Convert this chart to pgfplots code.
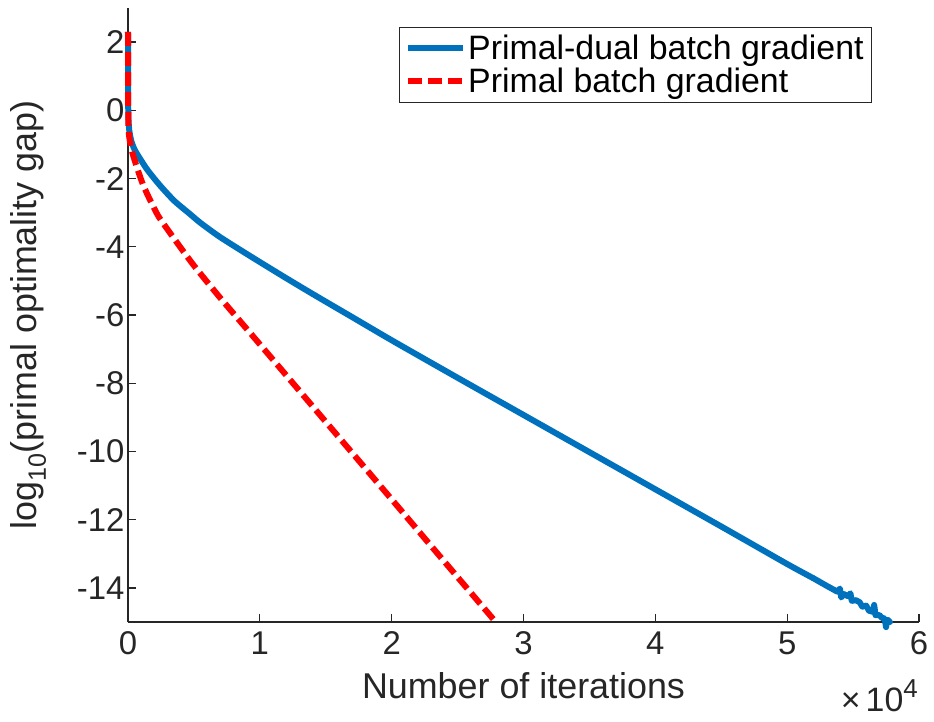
\documentclass[border=0pt]{standalone}
\usepackage{fontspec}
\setmainfont{Liberation Sans}
\usepackage{pgfplots}
\pgfplotsset{compat=1.18}

\definecolor{mblue}{rgb}{0,0.447,0.741}
\definecolor{mgrey}{rgb}{0.15,0.15,0.15}

\begin{document}
\begin{tikzpicture}
\begin{axis}[
    scale only axis,
    width=791bp, height=614bp,
    xmin=0, xmax=6,
    ymin=-15, ymax=3,
    axis x line*=bottom,
    axis y line*=left,
    axis line style={mgrey, line width=1.3bp},
    tick align=inside,
    major tick length=8bp,
    tick style={mgrey, line width=1.3bp},
    xtick={0,1,...,6},
    ytick={-14,-12,...,2},
    scaled x ticks=false,
    /pgf/number format/assume math mode=true,
    tick label style={font=\fontsize{33}{38}\selectfont, text=mgrey},
    xticklabel style={yshift=-6bp},
    label style={font=\fontsize{36}{40}\selectfont, text=mgrey},
    xlabel={Number of iterations},
    xlabel style={at={([yshift=-76bp]axis description cs:0.5,0)}, anchor=base},
    ylabel={log\textsubscript{10}(primal optimality gap)},
    ylabel style={at={([xshift=-91bp]axis description cs:0,0.5)}, anchor=base},
    clip=false,
    legend style={at={(rel axis cs:1,1)}, anchor=north east,
        xshift=-47bp, yshift=-19bp,
        draw=mgrey, line width=0.8bp,
        font=\fontsize{34}{38}\selectfont,
        inner xsep=6bp, inner ysep=6bp, row sep=3bp},
    legend cell align=left,
    legend image code/.code={\draw[#1] (0bp,0bp) -- (55bp,0bp);},
]
\addplot[mblue, line width=6bp, smooth, tension=0.4] coordinates {
    (0,2.3) (0.001,0.8) (0.002,0) (0.004,-0.3) (0.01,-0.6) (0.025,-0.9)
    (0.05,-1.15) (0.09,-1.41) (0.15,-1.76) (0.24,-2.19) (0.35,-2.65)
    (0.47,-3.04) (0.55,-3.3) (0.7,-3.72) (0.93,-4.28) (1.2,-4.92)
    (1.43,-5.45) (1.7,-6.06) (2.0,-6.74) (2.5,-7.84) (3.0,-8.93)
    (3.5,-10.02) (4.0,-11.11) (4.5,-12.2) (5.0,-13.3) (5.2,-13.72)
};
\addlegendentry{Primal-dual batch gradient}
\addplot[red, line width=6bp, dash pattern=on 14bp off 6bp, smooth, tension=0.4] coordinates {
    (0,2.3) (0.001,1.0) (0.002,0) (0.004,-0.5) (0.01,-0.8) (0.03,-1.2)
    (0.07,-1.7) (0.115,-2.19) (0.17,-2.65) (0.23,-3.1) (0.32,-3.6)
    (0.49,-4.5) (0.7,-5.5) (0.93,-6.54) (1.19,-7.72) (1.5,-9.13)
    (1.94,-11.13) (2.4,-13.23) (2.785,-14.98)
};
\addlegendentry{Primal batch gradient}
\addplot[mblue, line width=6bp, line join=round, line cap=round, forget plot] coordinates {
    (5.2,-13.72) (5.3,-13.94) (5.38,-14.11) (5.40,-14.02) (5.41,-14.28)
    (5.43,-14.18) (5.46,-14.24) (5.48,-14.16) (5.49,-14.38) (5.52,-14.36)
    (5.55,-14.42) (5.57,-14.55) (5.6,-14.52) (5.62,-14.67) (5.65,-14.7)
    (5.66,-14.5) (5.67,-14.8) (5.7,-14.8) (5.72,-14.88) (5.74,-14.9)
    (5.75,-15.15) (5.76,-14.93) (5.78,-15.0)
};
\node[anchor=base east, font=\fontsize{34}{38}\selectfont, text=mgrey, inner sep=0pt]
    at ([xshift=-1bp, yshift=-89bp]rel axis cs:1,0)
    {×\kern5bp 10\raisebox{14bp}{\fontsize{26}{30}\selectfont 4}};
\end{axis}
\path (-128bp,-100bp) rectangle (806bp,622bp);
\end{tikzpicture}
\end{document}
